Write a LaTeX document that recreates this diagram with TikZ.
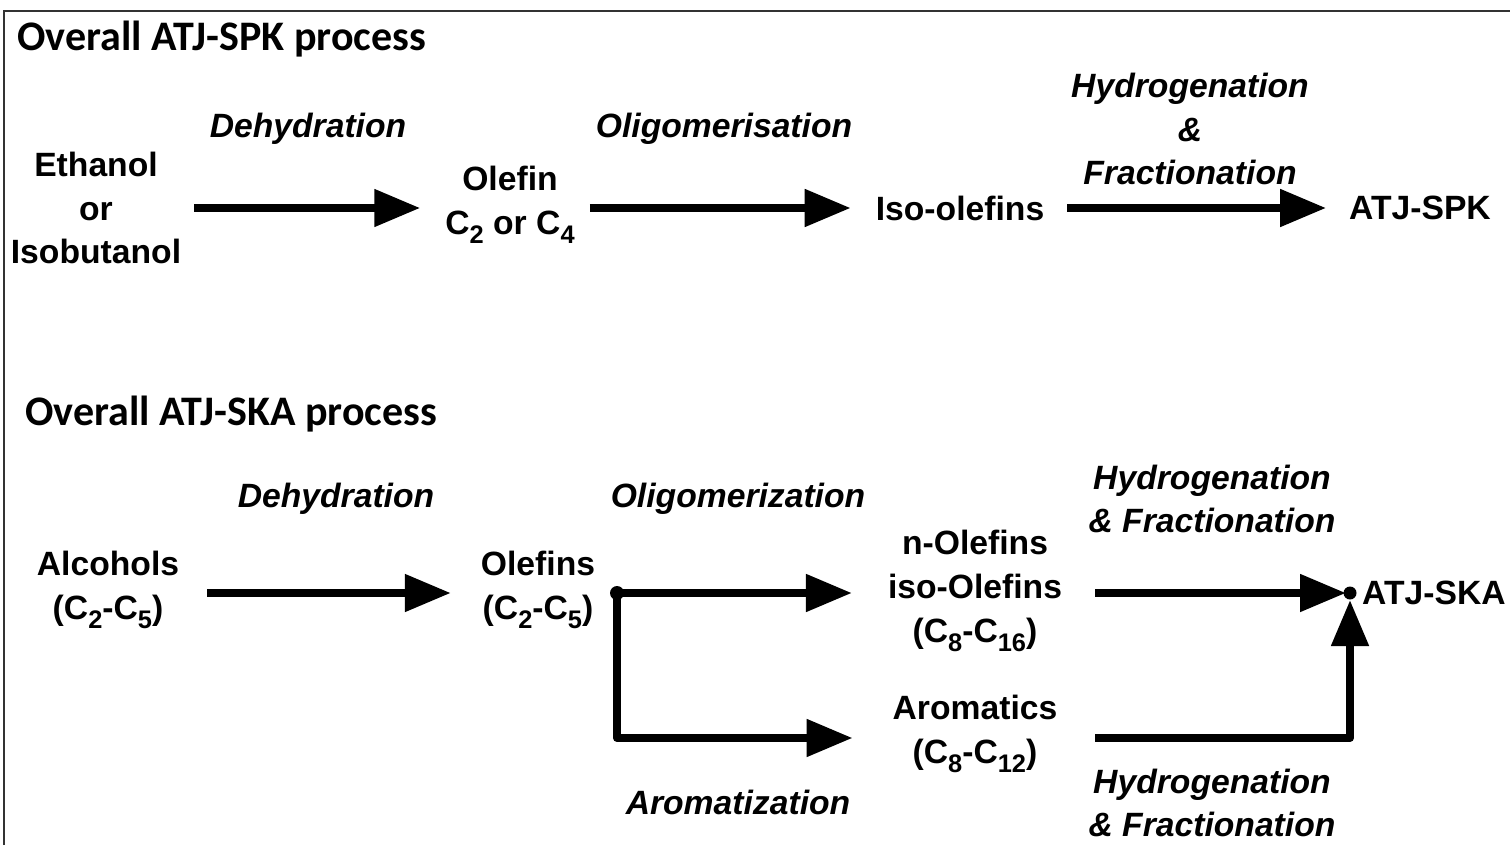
\documentclass[tikz,border=0pt]{standalone}
\usepackage{fontspec}
\setmainfont{Liberation Sans}
\newfontfamily\hdrfont{Carlito}
\usetikzlibrary{arrows.meta}
\newcommand{\sbs}[1]{\raisebox{-0.28em}{\fontsize{25.5}{25.5}\selectfont #1}}
\begin{document}
\begin{tikzpicture}[x=1bp,y=-1bp,
 lbl/.style={font=\fontsize{33.8}{44}\selectfont\bfseries, align=center, inner sep=0pt},
 proc/.style={font=\fontsize{33.8}{44}\selectfont\bfseries\itshape, align=center, inner sep=0pt},
 hdr/.style={font=\hdrfont\fontsize{42.2}{48}\selectfont\bfseries, anchor=west, inner sep=0pt},
 flow/.style={line width=8bp, -{Triangle[length=46bp,width=36bp]}},
 frame/.style={line width=2bp, black!80},
]
\useasboundingbox (0,0) rectangle (1510,845);
\draw[frame] (4,845) -- (4,11) -- (1510,11);

% top process
\node[hdr] (h1) at (17,39) {Overall ATJ-SPK process};
\node[lbl] (eth) at (96,208) {Ethanol\\or\\Isobutanol};
\node[proc] (d1) at (308,129) {Dehydration};
\node[lbl] (olf) at (510,205) {Olefin\\C\sbs{2} or C\sbs{4}};
\node[proc] (o1) at (724,129) {Oligomerisation};
\node[lbl] (iso) at (960,208) {Iso-olefins};
\node[proc] (hf1) at (1190,129) {Hydrogenation\\\&\\Fractionation};
\node[lbl] (spk) at (1420,208) {ATJ-SPK};

\draw[flow] ([xshift=13]eth.east) -- ([xshift=-25]olf.west |- eth.east);
\draw[flow] ([xshift=15]olf.east |- eth.east) -- ([xshift=-25]iso.west);
\draw[flow] ([xshift=23]iso.east) -- ([xshift=-23]spk.west);

% bottom process
\node[hdr] (h2) at (25,414) {Overall ATJ-SKA process};
\node[lbl] (alc) at (108,590) {Alcohols\\(C\sbs{2}-C\sbs{5})};
\node[proc] (d2) at (336,499) {Dehydration};
\node[lbl] (ols) at (538,590) {Olefins\\(C\sbs{2}-C\sbs{5})};
\node[proc] (o2) at (738,499) {Oligomerization};
\node[lbl] (nol) at (975,591) {n-Olefins\\iso-Olefins\\(C\sbs{8}-C\sbs{16})};
\node[proc] (hf2) at (1212,499) {Hydrogenation\\\& Fractionation};
\node[lbl,anchor=west] (ska) at (1362,593) {ATJ-SKA};
\node[lbl] (aro) at (975,734) {Aromatics\\(C\sbs{8}-C\sbs{12})};
\node[proc] (a2) at (738,802) {Aromatization};
\node[proc] (hf3) at (1212,803) {Hydrogenation\\\& Fractionation};

\coordinate (br) at (617,593);
\coordinate (jn) at (1350,593);

\draw[flow] ([xshift=28]alc.east |- br) -- ([xshift=-30]ols.west |- br);
\draw[flow] (br) -- ([xshift=-36]nol.west |- br);
\draw[flow, line join=round] (br) |- ([xshift=-40,yshift=-4]aro.west);
\draw[flow, shorten >=4bp] ([xshift=33]nol.east |- br) -- (jn);
\draw[flow, line join=round, shorten >=7bp] ([xshift=38,yshift=-4]aro.east) -| (jn);
\fill (br) circle (7);
\fill (jn) circle (6.5);
\end{tikzpicture}
\end{document}
